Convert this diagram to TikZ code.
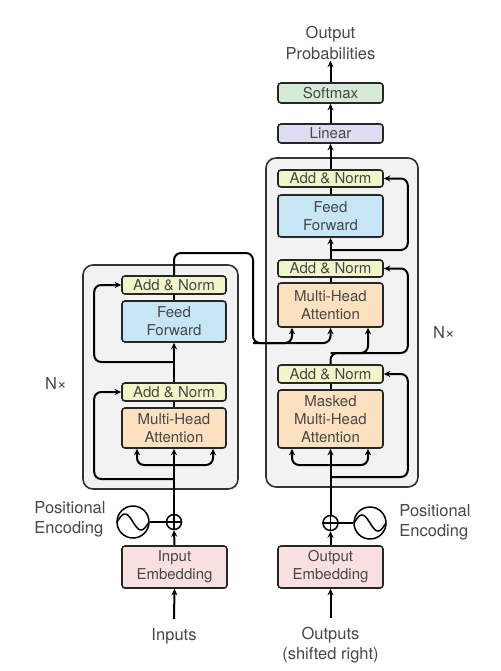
\documentclass[tikz,border=0pt]{standalone}
\usepackage{fontspec}
\setmainfont{TeX Gyre Heros}
\usepackage{tikz}
\usetikzlibrary{positioning, arrows.meta}

\definecolor{txt}{HTML}{474747}
\definecolor{addnorm}{HTML}{F2F5C9}
\definecolor{ffwd}{HTML}{C6E6F5}
\definecolor{attn}{HTML}{FCE1C0}
\definecolor{embed}{HTML}{F9E0E0}
\definecolor{lin}{HTML}{DEDEF2}
\definecolor{soft}{HTML}{D6EBD5}
\definecolor{stackbg}{HTML}{F2F2F2}

\newcommand{\blockfont}{\fontsize{15}{18}\selectfont}
\newcommand{\plainfont}{\fontsize{16.5}{20.5}\selectfont}

\tikzset{
  block/.style={draw=black!85, line width=1.6pt, rounded corners=3pt, minimum width=104pt,
    inner sep=0pt, align=center, font=\blockfont, text=txt},
  stack/.style={draw=black!80, line width=1.6pt, rounded corners=10pt, fill=stackbg},
  plaintext/.style={font=\plainfont, text=txt, align=center, inner sep=1pt},
  arr/.style={-{Stealth[length=6.5pt,width=6pt]}, line width=2pt},
  wire/.style={line width=2pt, rounded corners=7pt},
  ring/.style={draw, circle, line width=1.5pt, inner sep=0pt},
}

\begin{document}
\begin{tikzpicture}[x=1pt, y=-1pt]
\useasboundingbox (0,0) rectangle (500,671);

% the two stacks
\node[stack, minimum width=155pt, minimum height=224pt] (encstack) at (160.5,377) {};
\node[stack, minimum width=152pt, minimum height=329pt] (decstack) at (342,322.5) {};

% encoder
\node[block, fill=addnorm, minimum height=18pt] (eaddnorm2) at (174,285) {Add \& Norm};
\node[block, fill=ffwd, minimum height=41pt] (efeed) at (174,321.5) {Feed\\Forward};
\node[block, fill=addnorm, minimum height=18pt] (eaddnorm1) at (174,392) {Add \& Norm};
\node[block, fill=attn, minimum height=40pt] (eattn) at (174,428) {Multi-Head\\Attention};
\node[block, fill=embed, minimum height=42pt, minimum width=105pt] (eembed) at (174.5,567) {Input\\Embedding};
\node[ring, minimum size=15pt] (eplus) at (174,522) {};
\node[ring, minimum size=32pt] (esine) at (133,522) {};
\node[plaintext, align=left] (epos) at (70,519.5) {Positional\\Encoding};
\node[plaintext] (inputs) at (174,636) {Inputs};
\node[plaintext] (enx) at (56,383) {N×};

% decoder
\node[block, fill=addnorm, minimum height=17pt, minimum width=105pt] (daddnorm3) at (330.5,178.5) {Add \& Norm};
\node[block, fill=ffwd, minimum height=42pt, minimum width=105pt] (dfeed) at (330.5,216) {Feed\\Forward};
\node[block, fill=addnorm, minimum height=17pt, minimum width=105pt] (daddnorm2) at (330.5,268.5) {Add \& Norm};
\node[block, fill=attn, minimum height=44pt, minimum width=105pt] (dattn) at (330.5,305) {Multi-Head\\Attention};
\node[block, fill=addnorm, minimum height=18pt, minimum width=105pt] (daddnorm1) at (330.5,374) {Add \& Norm};
\node[block, fill=attn, minimum height=58pt, minimum width=105pt] (dmasked) at (330.5,419) {Masked\\Multi-Head\\Attention};
\node[block, fill=embed, minimum height=42pt, minimum width=105pt] (dembed) at (330.5,567) {Output\\Embedding};
\node[ring, minimum size=15pt] (dplus) at (330.5,523) {};
\node[ring, minimum size=32pt] (dsine) at (370,523) {};
\node[plaintext, align=left] (dpos) at (435,522.5) {Positional\\Encoding};
\node[plaintext] (outputs) at (330.5,645) {Outputs\\(shifted right)};
\node[plaintext] (dnx) at (444,332) {N×};

% head
\node[block, fill=lin, minimum height=19pt, minimum width=105pt] (linear) at (330.5,133.5) {Linear};
\node[block, fill=soft, minimum height=20pt, minimum width=105pt] (softmax) at (330.5,93) {Softmax};
\node[plaintext] (outprob) at (330.5,43) {Output\\Probabilities};

% branch points
\coordinate (efan) at (174,465);
\coordinate (eres1) at (174,479);
\coordinate (eres2) at (174,362);
\coordinate (ecorner) at (253,253);
\coordinate (xfan) at (253,343);
\coordinate (dfan) at (330.5,465);
\coordinate (dres1) at (330.5,477);
\coordinate (dres2) at (330.5,353);
\coordinate (dres3) at (330.5,250);

% plus signs and sine waves
\draw[line width=1.2pt] (eplus.north) -- (eplus.south) (eplus.west) -- (eplus.east);
\draw[line width=1.2pt] (dplus.north) -- (dplus.south) (dplus.west) -- (dplus.east);
\draw[line width=1.5pt, domain=-16:16, samples=50, smooth, variable=\t] plot ({133+\t},{522+8*sin(11.25*\t)});
\draw[line width=1.5pt, domain=-16:16, samples=50, smooth, variable=\t] plot ({370+\t},{523+8*sin(11.25*\t)});

% encoder wires
\draw[arr] ([yshift=8pt]inputs.north) -- (eembed.south);
\draw[arr] (eembed.north) -- (eplus.south);
\draw[wire] (esine.east) -- (eplus.west);
\draw[arr] (eplus.north) -- (eattn.south);
\draw[arr, wire] (eres1) -| ([xshift=-27pt]eaddnorm1.west) -- (eaddnorm1.west);
\draw[arr, wire] (efan) -| ([xshift=-37pt]eattn.south);
\draw[arr, wire] (efan) -| ([xshift=39pt]eattn.south);
\draw[wire] (eattn.north) -- (eaddnorm1.south);
\draw[arr] (eaddnorm1.north) -- (efeed.south);
\draw[arr, wire] (eres2) -| ([xshift=-27pt]eaddnorm2.west) -- (eaddnorm2.west);
\draw[wire] (efeed.north) -- (eaddnorm2.south);
\draw[arr, wire] (eaddnorm2.north) |- (ecorner) -- (xfan) -| (dattn.south);
\draw[arr, wire] (xfan) -| ([xshift=-38.5pt]dattn.south);

% decoder wires
\draw[arr] ([yshift=8pt]outputs.north) -- (dembed.south);
\draw[arr] (dembed.north) -- (dplus.south);
\draw[wire] (dsine.west) -- (dplus.east);
\draw[arr] (dplus.north) -- (dmasked.south);
\draw[arr, wire] (dfan) -| ([xshift=-38.5pt]dmasked.south);
\draw[arr, wire] (dfan) -| ([xshift=37.5pt]dmasked.south);
\draw[arr, wire] (dres1) -| ([xshift=24pt]daddnorm1.east) -- (daddnorm1.east);
\draw[wire] (dmasked.north) -- (daddnorm1.south);
\draw[arr, wire] (daddnorm1.north) -- (dres2) -| ([xshift=37.5pt]dattn.south);
\draw[arr, wire] (dres2) -| ([xshift=24pt]daddnorm2.east) -- (daddnorm2.east);
\draw[wire] (dattn.north) -- (daddnorm2.south);
\draw[arr] (daddnorm2.north) -- (dfeed.south);
\draw[arr, wire] (dres3) -| ([xshift=24pt]daddnorm3.east) -- (daddnorm3.east);
\draw[wire] (dfeed.north) -- (daddnorm3.south);
\draw[arr] (daddnorm3.north) -- (linear.south);
\draw[arr] (linear.north) -- (softmax.south);
\draw[arr] (softmax.north) -- (outprob.south);
\end{tikzpicture}
\end{document}
